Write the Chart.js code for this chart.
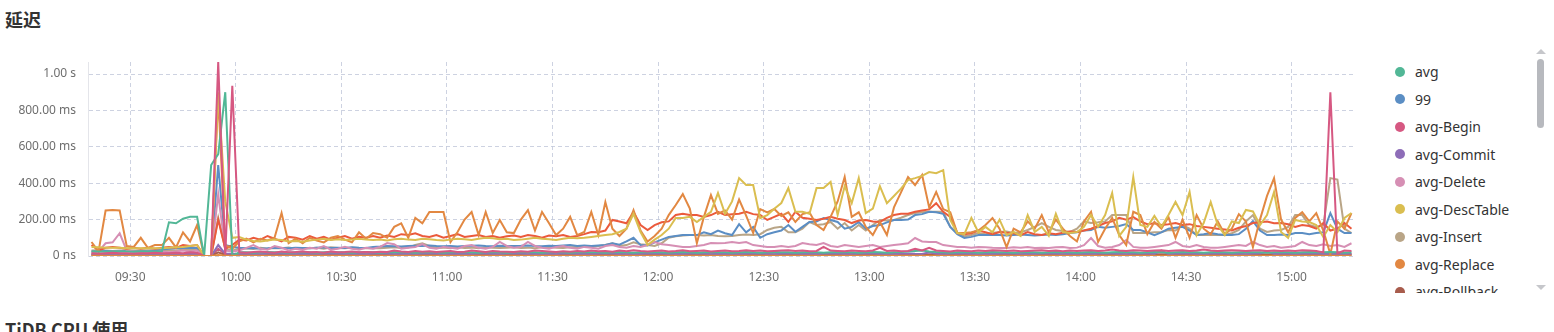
<!DOCTYPE html>
<html>
<head>
<meta charset="utf-8">
<script src="https://cdn.jsdelivr.net/npm/chart.js@4.4.1/dist/chart.umd.min.js"></script>
<style>
body { margin: 0; width: 1554px; height: 332px; overflow: hidden; background: #fff; font-family: "Noto Sans", "Noto Sans CJK SC", sans-serif; }
.title { position: absolute; left: 5px; font-size: 18px; line-height: 18px; font-weight: bold; color: #333; font-family: "Noto Sans CJK SC", "Noto Sans", sans-serif; }
#wrap { position: absolute; left: 0; top: 52px; width: 1360px; height: 240px; }
#legend { position: absolute; left: 1390px; top: 58px; width: 140px; height: 235px; overflow: hidden; }
.item { height: 27.5px; display: flex; align-items: center; font-size: 14px; color: #333; white-space: nowrap; }
.dot { width: 10px; height: 10px; border-radius: 50%; margin: 0 10px 0 5px; flex: none; }
#thumb { position: absolute; left: 1537px; top: 59px; width: 7px; height: 69px; border-radius: 4px; background: #b7b9be; }
.arr { position: absolute; left: 1536px; width: 0; height: 0; border-left: 5px solid transparent; border-right: 5px solid transparent; }
#up { top: 49px; border-bottom: 5px solid #c6c7cb; }
#down { top: 285px; border-top: 5px solid #c6c7cb; }
</style>
</head>
<body>
<div class="title" style="top:10px">延迟</div>
<div id="wrap"><canvas id="latencyChart"></canvas></div>
<div id="legend"></div>
<div id="up" class="arr"></div>
<div id="thumb"></div>
<div id="down" class="arr"></div>
<div class="title" style="top:320px">TiDB CPU 使用</div>
<script>
// x axis: one point every 2 minutes, from 09:19
const startMinute = 559;
const stepMinutes = 2;
const xTickLabels = ['09:30', '10:00', '10:30', '11:00', '11:30', '12:00', '12:30', '13:00', '13:30', '14:00', '14:30', '15:00'];
const yTickValues = [0, 200, 400, 600, 800, 1000];

// values in ms
const avgVals = [
  25,25,24,25,25,25,24,25,25,25, 25,185,180,205,215,215,0,500,560,900,
  0,20,20,18,20,22,20,20,18,20, 22,20,18,20,22,20,20,18,20,22,
  20,18,20,22,20,20,18,20,22,20, 18,20,22,20,20,18,20,22,20,18,
  20,22,20,20,18,20,22,20,18,20, 22,20,20,18,20,22,20,18,20,22,
  20,20,18,20,22,20,18,20,22,20, 20,18,20,22,20,18,20,22,20,20,
  18,20,22,20,18,20,22,20,20,18, 20,22,20,18,20,22,25,28,30,25,
  22,20,18,20,22,20,18,20,22,20, 20,18,20,22,20,18,20,22,20,20,
  18,20,22,20,18,20,22,20,20,18, 20,22,20,18,20,22,20,20,18,20,
  22,20,18,20,22,20,20,18,20,22, 20,18,20,22,20,20,22,20,18,20
];
const p99Vals = [
  25,25,28,25,25,28,25,25,28,30, 35,40,42,44,44,44,0,0,500,60,
  50,45,42,44,40,42,45,44,42,45, 44,42,45,48,44,46,44,48,45,44,
  50,52,55,54,52,55,56,55,58,55, 54,55,52,55,56,58,55,54,56,55,
  55,56,58,55,54,56,55,58,60,55, 58,55,58,60,70,62,80,100,60,58,
  75,90,105,110,115,115,115,130,120,140, 125,115,175,130,160,100,120,130,140,170,
  133,160,187,190,209,198,187,150,160,187, 150,165,170,185,198,198,200,225,230,243,
  240,232,160,120,99,105,115,115,115,115, 112,115,118,115,112,115,118,115,120,126,
  130,140,143,160,155,160,165,175,143,143, 130,115,130,150,155,160,140,115,120,126,
  120,115,115,120,150,192,140,115,115,118, 115,126,126,120,126,130,236,150,126,126
];
const beginVals = [
  15,12,15,18,15,15,12,15,15,18, 15,15,18,15,20,18,0,0,1066,0,
  935,20,18,22,25,20,18,24,20,22, 25,20,22,18,24,20,22,25,20,22,
  20,24,22,30,25,22,28,24,26,22, 25,28,22,24,30,26,22,28,25,24,
  22,26,24,30,28,25,22,26,24,28, 25,30,26,28,24,30,26,32,28,25,
  28,30,25,28,32,26,28,30,25,28, 30,26,28,32,28,30,26,28,30,32,
  28,30,26,28,50,30,28,26,30,28, 26,30,45,28,30,26,28,40,30,45,
  30,28,25,30,28,26,30,28,32,30, 28,30,26,28,30,32,28,30,26,30,
  28,30,32,28,30,35,30,28,32,30, 28,30,32,28,30,32,28,30,35,30,
  28,30,32,30,28,30,32,28,30,28, 30,28,32,30,28,20,900,15,30,28
];
const commitVals = [
  10,12,10,12,10,11,12,10,12,11, 10,12,11,10,12,11,0,0,60,12,
  12,10,12,11,10,12,14,12,11,10, 12,11,10,12,14,12,10,11,12,10,
  12,14,12,10,12,11,10,12,14,12, 10,12,11,12,10,14,12,11,10,12,
  14,12,10,12,11,12,10,14,12,11, 12,10,12,14,12,11,10,12,11,12,
  14,12,10,12,11,12,14,12,10,12, 11,12,10,12,14,12,11,10,12,14,
  12,11,12,10,12,14,12,11,10,12, 14,12,11,12,10,12,14,12,11,20,
  12,10,12,14,12,11,10,12,11,12, 14,12,10,12,11,12,14,12,10,12,
  11,12,10,12,14,12,11,10,12,14, 12,11,30,10,12,14,12,11,10,12,
  14,12,11,12,10,12,14,25,11,12, 12,10,12,14,12,11,10,12,11,12
];
const deleteVals = [
  20,25,70,75,125,30,25,20,25,20, 25,20,25,30,25,30,0,0,340,30,
  25,30,45,60,40,35,55,45,30,40, 35,45,40,55,35,40,50,40,35,45,
  40,50,71,65,40,45,50,65,45,40, 50,45,40,55,60,45,40,50,77,55,
  45,50,77,55,45,40,50,55,45,40, 50,45,40,55,60,50,45,55,50,60,
  77,65,60,55,50,50,55,60,71,70, 71,77,72,77,60,55,50,50,55,50,
  55,71,65,60,71,55,50,60,55,50, 55,60,50,55,60,65,70,99,80,77,
  77,60,55,50,50,45,50,48,45,44, 44,48,45,50,44,46,44,48,50,44,
  46,60,99,55,45,50,60,88,50,46, 45,50,55,60,77,55,50,60,50,46,
  45,50,55,60,55,77,60,50,55,45, 50,55,77,60,55,65,55,60,50,70
];
const descTableVals = [
  50,48,45,45,45,42,42,42,42,42, 42,45,48,50,55,60,0,0,900,300,
  100,104,90,82,80,85,90,88,80,82, 78,85,90,95,88,92,88,90,95,90,
  88,90,85,92,95,90,88,95,92,88, 85,90,95,92,88,95,100,98,92,95,
  88,90,95,100,95,92,88,95,100,98, 100,105,110,115,120,132,150,232,132,60,
  90,115,150,209,209,215,187,215,243,346, 232,300,428,390,390,208,225,260,291,373,
  243,243,232,373,373,407,225,384,290,428, 236,260,384,290,330,370,417,428,440,461,
  455,472,198,126,120,209,130,160,130,200, 115,132,110,225,132,160,110,232,132,126,
  132,160,225,160,225,346,110,160,434,170, 160,220,160,225,297,225,352,115,181,297,
  170,115,190,181,253,245,170,225,352,132, 100,198,190,187,170,104,170,132,209,236
];
const insertVals = [
  30,32,30,28,30,32,30,30,32,30, 30,32,30,35,33,35,0,0,210,40,
  30,40,42,38,45,40,44,42,46,40, 44,42,45,40,48,44,42,46,44,42,
  44,42,45,48,44,46,60,70,55,44, 46,42,48,44,46,42,48,45,44,46,
  48,44,46,42,48,50,46,44,48,50, 52,50,55,60,70,55,60,75,65,60,
  55,70,100,108,112,115,115,112,115,110, 108,110,115,118,115,120,143,155,160,130,
  130,150,187,170,175,187,150,181,140,170, 140,170,198,195,198,210,225,236,240,243,
  243,243,160,126,108,115,126,120,126,132, 135,126,130,143,160,181,160,143,138,132,
  150,190,181,185,190,225,225,225,126,126, 126,130,132,143,140,170,150,115,115,115,
  115,115,125,143,190,225,150,132,140,143, 160,225,225,170,160,170,428,420,150,126
];
const replaceVals = [
  77,25,250,253,250,55,50,100,45,60, 60,100,47,130,80,170,0,0,880,60,
  40,80,95,75,95,85,100,236,70,95, 70,100,85,75,100,110,90,75,130,95,
  126,120,100,160,180,100,209,180,242,242, 242,77,132,200,242,115,242,126,198,130,
  126,200,252,140,242,180,115,150,215,115, 132,242,115,297,150,110,150,252,140,80,
  110,150,225,280,340,260,71,215,335,232, 250,200,310,222,126,258,240,258,220,240,
  187,230,240,170,143,215,300,434,215,240, 160,115,187,115,267,350,434,390,445,267,
  352,258,240,126,126,130,140,170,209,150, 49,150,130,190,150,225,130,200,150,110,
  80,190,243,77,150,209,115,60,243,225, 120,187,150,214,100,200,100,225,150,120,
  190,120,150,230,190,49,200,330,428,200, 130,209,241,190,236,140,10,190,150,236
];
const rollbackVals = [
  6,6,5,6,7,6,5,6,6,7, 6,5,6,7,6,6,0,0,20,6,
  6,5,6,7,6,6,5,6,7,6, 5,6,7,6,6,5,6,7,6,5,
  6,7,6,5,6,6,7,6,5,6, 7,6,5,6,6,7,6,5,6,7,
  6,5,6,7,6,6,5,6,7,6, 5,6,7,6,6,5,6,7,6,5,
  6,7,6,5,6,6,7,6,5,6, 7,6,5,6,6,7,6,5,6,7,
  6,5,6,7,6,6,5,6,7,6, 5,6,7,6,6,5,6,7,6,5,
  6,7,6,5,6,6,7,6,5,6, 7,6,5,6,6,7,6,5,6,7,
  6,5,6,7,6,6,5,6,7,6, 5,6,7,6,6,5,6,7,6,5,
  6,7,6,5,6,6,7,6,5,6, 7,6,5,6,6,7,6,5,6,7
];
const selectVals = [
  60,30,45,50,45,40,45,40,45,40, 45,50,45,60,55,60,0,0,200,40,
  60,90,85,100,90,110,95,80,105,100, 90,110,95,105,90,100,110,95,105,100,
  110,100,112,105,120,115,125,110,105,115, 100,110,120,105,110,115,105,110,100,108,
  112,105,115,110,100,112,108,115,105,110, 120,132,130,140,198,190,180,242,170,143,
  170,185,190,225,232,225,225,215,225,243, 225,230,232,243,230,225,198,215,232,187,
  243,210,205,198,205,215,205,198,181,195, 198,190,187,210,225,232,232,243,250,256,
  290,243,215,126,120,125,140,130,120,132, 128,125,115,132,120,115,125,120,128,135,
  132,140,150,165,181,190,210,200,214,190, 175,180,170,175,181,170,175,165,160,155,
  150,145,140,155,165,181,185,190,180,181, 175,160,170,165,150,181,140,150,181,150
];
const updateVals = [
  10,9,11,10,10,9,10,11,10,9, 10,11,10,9,10,10,0,0,40,10,
  9,10,11,10,9,10,10,11,9,10, 11,10,9,10,11,10,10,9,11,10,
  10,11,9,10,10,11,10,9,10,11, 9,10,11,10,9,10,11,10,10,9,
  11,10,9,10,11,10,10,9,11,10, 10,11,9,10,12,11,10,9,10,11,
  12,10,11,10,9,10,11,12,10,11, 10,9,11,10,12,11,10,9,10,11,
  10,11,12,10,11,9,10,11,10,12, 11,10,9,10,11,12,10,11,10,9,
  10,11,10,9,10,11,10,10,9,11, 10,11,9,10,10,11,10,9,10,11,
  9,10,11,10,9,10,11,10,10,9, 11,10,9,10,11,10,10,9,11,10,
  10,11,9,10,10,11,10,9,10,11, 9,10,11,10,9,10,11,10,10,9
];
const useVals = [
  2,2,1,2,2,1,2,2,1,2, 2,1,2,2,1,2,0,0,5,2,
  1,2,2,1,2,2,1,2,1,2, 2,1,2,2,1,2,2,1,2,1,
  2,2,1,2,1,2,2,1,2,2, 1,2,2,1,2,1,2,2,1,2,
  2,1,2,1,2,2,1,2,2,1, 2,2,1,2,2,1,2,1,2,2,
  1,2,2,1,2,2,1,2,2,1, 2,1,2,2,1,2,2,1,2,2,
  2,2,1,2,2,1,2,2,1,2, 1,2,2,1,2,2,1,2,1,2,
  2,1,2,2,1,2,2,1,2,2, 1,2,1,2,2,1,2,2,1,2,
  2,2,1,2,1,2,2,1,2,2, 1,2,2,1,2,2,1,2,2,1,
  2,1,2,2,1,2,2,1,2,2, 1,2,2,1,2,2,1,2,2,2
];

const seriesNames = ['avg', '99', 'avg-Begin', 'avg-Commit', 'avg-Delete', 'avg-DescTable', 'avg-Insert', 'avg-Replace', 'avg-Rollback', 'avg-Select', 'avg-Update', 'avg-Use'];
const seriesColors = ['#52b796', '#5b8ec4', '#d65882', '#8e6db8', '#d68fb4', '#dabe50', '#b9a587', '#e28842', '#a85c4c', '#eb5a3c', '#c9587a', '#e0883f'];
const seriesValues = [avgVals, p99Vals, beginVals, commitVals, deleteVals, descTableVals, insertVals, replaceVals, rollbackVals, selectVals, updateVals, useVals];
// lower = drawn on top
const drawOrder = [3, 8, 1, 6, 7, 4, 9, 5, 10, 6, 11, 0];

const times = avgVals.map((v, i) => startMinute + i * stepMinutes);

function toMinutes(label) {
    const parts = label.split(':');
    return Number(parts[0]) * 60 + Number(parts[1]);
}
function fmtTime(m) {
    const h = Math.floor(m / 60), mm = m % 60;
    return String(h).padStart(2, '0') + ':' + String(mm).padStart(2, '0');
}
function fmtLatency(v) {
    if (v === 0) return '0 ns';
    if (v >= 1000) return (v / 1000).toFixed(2) + ' s';
    return v.toFixed(2) + ' ms';
}

// html legend (scrolling list in the original)
const legend = document.getElementById('legend');
seriesNames.forEach((name, i) => {
    const item = document.createElement('div');
    item.className = 'item';
    item.innerHTML = '<span class="dot" style="background:' + seriesColors[i] + '"></span>' + name;
    legend.appendChild(item);
});

const gridColor = 'rgba(196, 202, 220, 0.85)';
Chart.defaults.font.family = "'Noto Sans', sans-serif";

const ctx = document.getElementById('latencyChart');
new Chart(ctx, {
    type: 'line',
    data: {
        datasets: seriesNames.map((name, i) => ({
            label: name,
            data: seriesValues[i].map((v, j) => ({ x: times[j], y: v })),
            borderColor: seriesColors[i],
            backgroundColor: seriesColors[i],
            borderWidth: 2,
            pointRadius: 0,
            tension: 0,
            fill: false,
            order: drawOrder[i]
        }))
    },
    options: {
        animation: false,
        responsive: true,
        maintainAspectRatio: false,
        layout: { padding: { top: 10, right: 5, left: 0, bottom: 0 } },
        plugins: { legend: { display: false }, tooltip: { enabled: false } },
        scales: {
            x: {
                type: 'linear',
                min: 558,
                max: 918,
                afterBuildTicks: (s) => { s.ticks = xTickLabels.map(t => ({ value: toMinutes(t) })); },
                afterFit: (s) => { s.height = 36; s.paddingLeft = 0; s.paddingRight = 0; },
                ticks: {
                    callback: (v) => fmtTime(v),
                    color: '#6e6e6e',
                    font: { size: 12 },
                    padding: 14,
                    maxRotation: 0,
                    autoSkip: false
                },
                grid: { color: gridColor, drawTicks: false },
                border: { display: false, dash: [4, 3] }
            },
            y: {
                min: 0,
                max: 1066,
                afterBuildTicks: (s) => { s.ticks = yTickValues.map(v => ({ value: v })); },
                afterFit: (s) => { s.width = 88; s.paddingTop = 0; s.paddingBottom = 0; },
                ticks: {
                    callback: (v) => fmtLatency(v),
                    color: '#6e6e6e',
                    font: { size: 12 },
                    padding: 12
                },
                grid: { color: gridColor, drawTicks: false },
                border: { display: true, color: '#e4e5ea', width: 1, dash: [4, 3] }
            }
        }
    }
});
</script>
</body>
</html>
